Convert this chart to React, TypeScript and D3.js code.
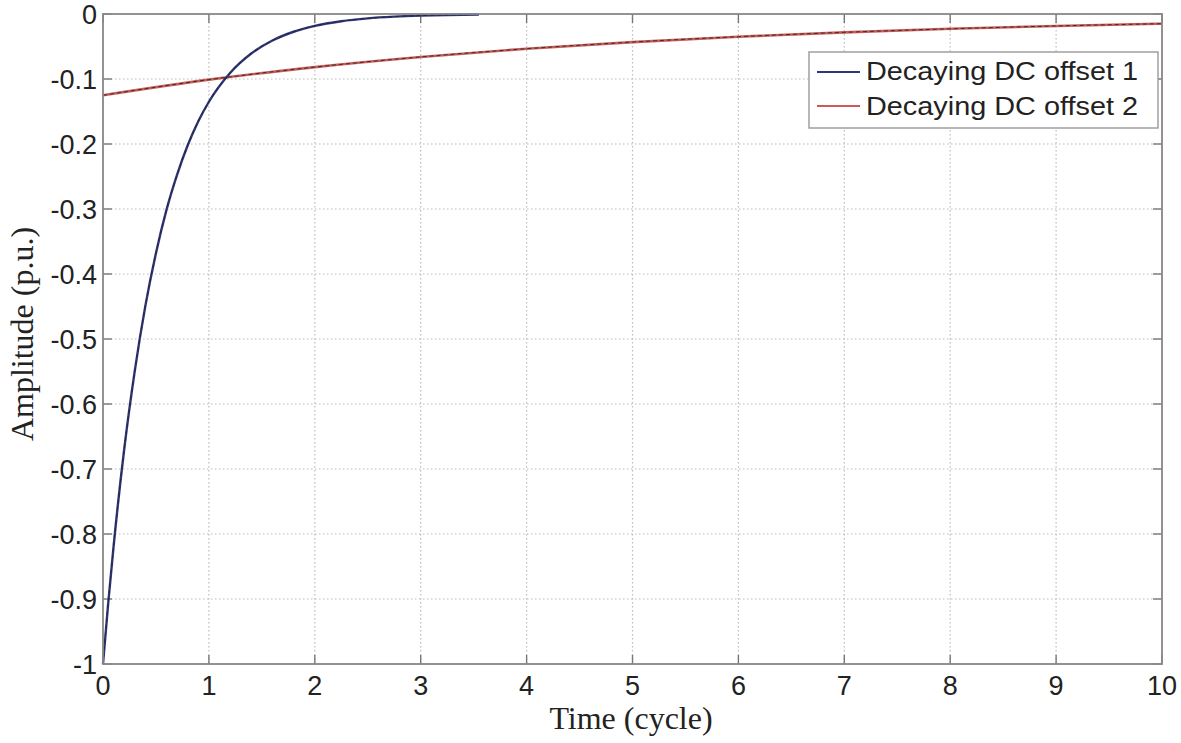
import React from "react";
import * as d3 from "d3";

const xTicks = [0, 1, 2, 3, 4, 5, 6, 7, 8, 9, 10];
const yTicks = [0, -0.1, -0.2, -0.3, -0.4, -0.5, -0.6, -0.7, -0.8, -0.9, -1];
const yTickLabels = ["0", "-0.1", "-0.2", "-0.3", "-0.4", "-0.5", "-0.6", "-0.7", "-0.8", "-0.9", "-1"];

// Decaying DC offset 1
const t1 = [0, 0.05, 0.1, 0.2, 0.3, 0.4, 0.5, 0.6, 0.7, 0.8, 0.9, 1.0, 1.2, 1.4, 1.6, 1.8, 2.0, 2.25, 2.5, 2.75, 3.0, 3.25, 3.55];
const v1 = [-1, -0.905, -0.819, -0.67, -0.549, -0.449, -0.368, -0.301, -0.247, -0.202, -0.165, -0.135, -0.0907, -0.0608, -0.0408, -0.0273, -0.0183, -0.0111, -0.0067, -0.0041, -0.0025, -0.0015, -0.0008];

// Decaying DC offset 2
const t2 = [0, 1, 2, 3, 4, 5, 6, 7, 8, 9, 10];
const v2 = [-0.125, -0.101, -0.0817, -0.0661, -0.0534, -0.0432, -0.0349, -0.0282, -0.0228, -0.0184, -0.0149];

const seriesNames = ["Decaying DC offset 1", "Decaying DC offset 2"];
const seriesColors = ["#2e3578", "#cc5a55"];

const W = 1181, H = 743;
const L = 103, R = 1162, T = 14, B = 664;

export default function App() {
  const x = d3.scaleLinear().domain([0, 10]).range([L, R]);
  const y = d3.scaleLinear().domain([-1, 0]).range([B, T]);
  const line = d3.line<[number, number]>().x(d => x(d[0])).y(d => y(d[1])).curve(d3.curveMonotoneX);
  const d1 = line(t1.map((t, i) => [t, v1[i]]))!;
  const d2 = line(t2.map((t, i) => [t, v2[i]]))!;
  const sans = "Arial, 'Liberation Sans', Helvetica, sans-serif";
  const serif = "'Times New Roman', 'Liberation Serif', serif";
  return (
    <svg width={W} height={H} style={{ position: "absolute", left: 0, top: 0, background: "#fff" }}>
      <rect x={0} y={0} width={W} height={H} fill="#fff" />
      {/* grid */}
      {xTicks.slice(1, -1).map(t => (
        <line key={"gx" + t} x1={x(t)} x2={x(t)} y1={T} y2={B} stroke="#bbb" strokeWidth={1.2} strokeDasharray="1.5,2.5" />
      ))}
      {yTicks.slice(1, -1).map(t => (
        <line key={"gy" + t} x1={L} x2={R} y1={y(t)} y2={y(t)} stroke="#bbb" strokeWidth={1.2} strokeDasharray="1.5,2.5" />
      ))}
      {/* ticks */}
      {xTicks.map(t => (
        <g key={"tx" + t}>
          <line x1={x(t)} x2={x(t)} y1={B} y2={B - 9} stroke="#777" strokeWidth={1.4} />
          <line x1={x(t)} x2={x(t)} y1={T} y2={T + 9} stroke="#777" strokeWidth={1.4} />
          <text x={x(t)} y={695} textAnchor="middle" fontFamily={sans} fontSize={27} fill="#222">{t}</text>
        </g>
      ))}
      {yTicks.map((t, i) => (
        <g key={"ty" + t}>
          <line x1={L} x2={L + 9} y1={y(t)} y2={y(t)} stroke="#777" strokeWidth={1.4} />
          <line x1={R} x2={R - 9} y1={y(t)} y2={y(t)} stroke="#777" strokeWidth={1.4} />
          <text x={97} y={y(t) + 10} textAnchor="end" fontFamily={sans} fontSize={27} fill="#222">{yTickLabels[i]}</text>
        </g>
      ))}
      {/* curves */}
      <path d={d2} fill="none" stroke={seriesColors[1]} strokeWidth={2.6} />
      <path d={d2} fill="none" stroke="#333" strokeWidth={1} strokeDasharray="4,3" />
      <path d={d1} fill="none" stroke={seriesColors[0]} strokeWidth={2.4} />
      <path d={d1} fill="none" stroke="#222" strokeWidth={0.8} strokeDasharray="4,3" />
      {/* frame */}
      <rect x={L} y={T} width={R - L} height={B - T} fill="none" stroke="#888" strokeWidth={1.8} />
      {/* legend */}
      <rect x={809} y={52} width={349} height={76} fill="#fff" stroke="#999" strokeWidth={1.4} />
      {seriesNames.map((n, i) => (
        <g key={n}>
          <line x1={817} x2={860} y1={72 + i * 34} y2={72 + i * 34} stroke={seriesColors[i]} strokeWidth={2} />
          <text x={866} y={80 + i * 35} fontFamily={sans} fontSize={25} fill="#222" textLength={272} lengthAdjust="spacingAndGlyphs">{n}</text>
        </g>
      ))}
      {/* axis titles */}
      <text x={631} y={729} textAnchor="middle" fontFamily={serif} fontSize={32} fill="#222">Time (cycle)</text>
      <text transform={`translate(33, 334) rotate(-90)`} textAnchor="middle" fontFamily={serif} fontSize={32} fill="#222">Amplitude (p.u.)</text>
    </svg>
  );
}
